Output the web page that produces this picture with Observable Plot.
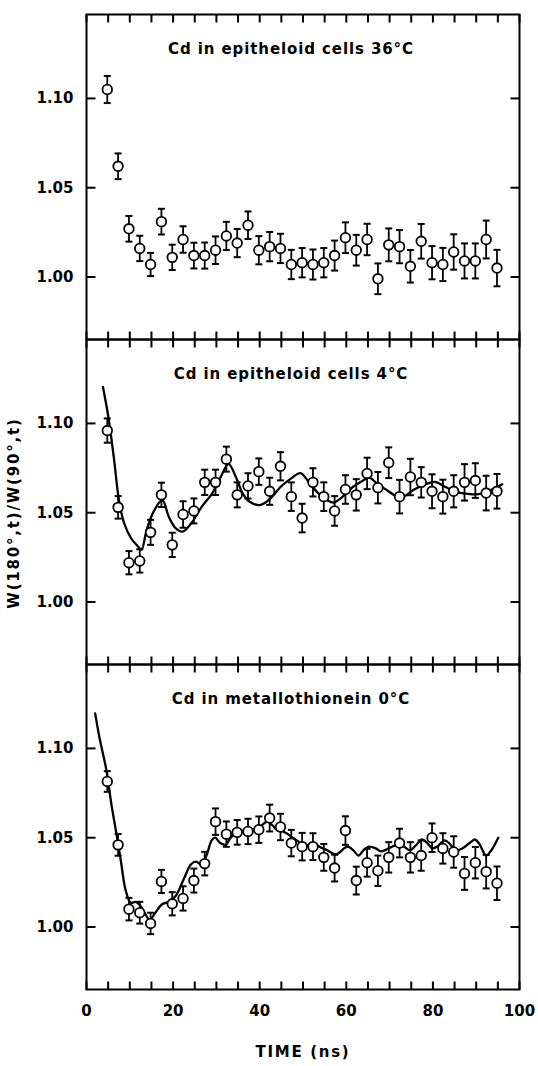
<!DOCTYPE html>
<html><head><meta charset="utf-8">
<script src="https://cdn.jsdelivr.net/npm/d3@7"></script>
<script src="https://cdn.jsdelivr.net/npm/@observablehq/plot@0.6"></script>
<style>
body{margin:0;background:#fff}
#chart{width:538px;height:1066px}
</style>
</head><body><div id="chart"></div>
<script>
const panels = ["36C", "4C", "0C"];
const panelTitles = ["Cd in epitheloid cells 36°C", "Cd in epitheloid cells 4°C", "Cd in metallothionein 0°C"];
const yLabel = "W(180°,t)/W(90°,t)";
const xLabel = "TIME (ns)";

const times = [4.8, 7.3, 9.8, 12.3, 14.8, 17.3, 19.8, 22.3, 24.8, 27.3, 29.8, 32.3, 34.8, 37.3, 39.8, 42.3, 44.8, 47.3, 49.8, 52.3, 54.8, 57.3, 59.8, 62.3, 64.8, 67.3, 69.8, 72.3, 74.8, 77.3, 79.8, 82.3, 84.8, 87.3, 89.8, 92.3, 94.8];

const values36 = [1.105, 1.062, 1.027, 1.016, 1.007, 1.031, 1.011, 1.021, 1.012, 1.012, 1.015, 1.023, 1.019, 1.029, 1.015, 1.017, 1.016, 1.007, 1.008, 1.007, 1.008, 1.012, 1.022, 1.015, 1.021, 0.999, 1.018, 1.017, 1.006, 1.020, 1.008, 1.007, 1.014, 1.009, 1.009, 1.021, 1.005];
const errors36 = [0.0076, 0.0072, 0.0072, 0.0071, 0.0065, 0.0072, 0.0071, 0.0074, 0.0072, 0.0073, 0.0077, 0.0079, 0.0079, 0.0077, 0.0079, 0.0082, 0.0082, 0.0082, 0.0082, 0.0084, 0.0082, 0.0084, 0.0086, 0.0086, 0.0088, 0.0086, 0.0092, 0.0093, 0.0091, 0.0097, 0.0093, 0.0093, 0.0099, 0.0098, 0.0098, 0.0106, 0.0102];

const values4 = [1.096, 1.053, 1.022, 1.023, 1.039, 1.060, 1.032, 1.049, 1.051, 1.067, 1.067, 1.080, 1.060, 1.065, 1.073, 1.062, 1.076, 1.059, 1.047, 1.067, 1.059, 1.051, 1.063, 1.060, 1.072, 1.064, 1.078, 1.059, 1.070, 1.067, 1.062, 1.059, 1.062, 1.067, 1.068, 1.061, 1.062];
const errors4 = [0.0068, 0.0063, 0.0065, 0.0065, 0.007, 0.0068, 0.0068, 0.0074, 0.007, 0.0071, 0.0071, 0.007, 0.007, 0.0071, 0.0074, 0.0076, 0.0079, 0.008, 0.008, 0.0079, 0.008, 0.0083, 0.008, 0.0088, 0.0088, 0.0088, 0.0086, 0.0094, 0.0102, 0.0085, 0.0095, 0.0095, 0.009, 0.0102, 0.0097, 0.0097, 0.0097];

const values0 = [1.0815, 1.046, 1.010, 1.008, 1.002, 1.0255, 1.013, 1.016, 1.026, 1.0355, 1.059, 1.052, 1.053, 1.0535, 1.0545, 1.061, 1.056, 1.047, 1.045, 1.045, 1.039, 1.033, 1.054, 1.026, 1.036, 1.0315, 1.039, 1.047, 1.039, 1.040, 1.050, 1.044, 1.042, 1.030, 1.036, 1.031, 1.0245];
const errors0 = [0.0058, 0.0061, 0.0063, 0.0061, 0.006, 0.0065, 0.0065, 0.0068, 0.0067, 0.0066, 0.0074, 0.0071, 0.0069, 0.0071, 0.0074, 0.0075, 0.0074, 0.0074, 0.0077, 0.0075, 0.0075, 0.0075, 0.008, 0.0078, 0.0078, 0.0085, 0.0085, 0.008, 0.0085, 0.0085, 0.008, 0.0085, 0.0088, 0.0092, 0.0088, 0.0094, 0.0094];

const fitTimes4 = [3.8, 5.0, 6.3, 7.5, 8.7, 10.3, 11.9, 12.7, 13.9, 15.5, 17.5, 19.0, 20.6, 22.2, 24.2, 26.6, 29.0, 31.0, 32.8, 34.5, 36.1, 37.7, 40.1, 42.5, 44.8, 47.2, 49.4, 51.6, 53.6, 55.6, 57.1, 59.1, 61.5, 63.9, 65.3, 67.1, 69.4, 71.8, 73.0, 75.4, 78.2, 80.6, 82.9, 85.3, 87.7, 90.5, 93.3, 96.0];
const fitValues4 = [1.1204, 1.1043, 1.0811, 1.057, 1.0441, 1.0357, 1.0311, 1.0293, 1.0404, 1.0506, 1.057, 1.0478, 1.0413, 1.0394, 1.0441, 1.0533, 1.0607, 1.070, 1.0774, 1.070, 1.0607, 1.0561, 1.0543, 1.058, 1.0644, 1.0691, 1.0722, 1.0663, 1.0607, 1.057, 1.0557, 1.0589, 1.0644, 1.0681, 1.0696, 1.0663, 1.0626, 1.0589, 1.0585, 1.0626, 1.0659, 1.0672, 1.0644, 1.0617, 1.0607, 1.0604, 1.0626, 1.0659];

const fitTimes0 = [2.0, 3.0, 4.5, 5.8, 7.0, 8.0, 9.0, 10.2, 11.4, 12.4, 13.4, 14.6, 15.9, 17.4, 19.0, 20.6, 22.5, 24.1, 25.3, 26.5, 27.7, 28.9, 29.7, 30.9, 32.1, 33.3, 34.9, 36.5, 38.5, 40.5, 41.7, 42.9, 44.1, 45.3, 46.5, 47.6, 49.2, 50.8, 52.4, 54.0, 55.6, 57.6, 59.6, 60.4, 61.6, 62.8, 64.0, 65.2, 66.8, 68.0, 69.6, 71.6, 73.1, 74.7, 75.9, 77.5, 78.7, 79.9, 81.1, 82.7, 83.9, 85.1, 86.7, 88.7, 89.7, 90.7, 92.3, 93.5, 95.1];
const fitValues0 = [1.1196, 1.106, 1.089, 1.068, 1.051, 1.036, 1.021, 1.0136, 1.014, 1.012, 1.008, 1.004, 1.008, 1.0126, 1.0142, 1.0174, 1.027, 1.035, 1.0366, 1.035, 1.040, 1.0485, 1.050, 1.047, 1.046, 1.050, 1.053, 1.054, 1.0547, 1.057, 1.059, 1.057, 1.054, 1.0536, 1.052, 1.050, 1.0475, 1.0457, 1.0466, 1.0447, 1.043, 1.0406, 1.0442, 1.045, 1.043, 1.040, 1.043, 1.045, 1.044, 1.0423, 1.0438, 1.046, 1.0453, 1.043, 1.0453, 1.049, 1.047, 1.044, 1.0453, 1.0485, 1.0466, 1.043, 1.0438, 1.0475, 1.049, 1.0466, 1.040, 1.043, 1.050];

const xTickValues = [0, 5, 10, 15, 20, 25, 30, 35, 40, 45, 50, 55, 60, 65, 70, 75, 80, 85, 90, 95, 100];
const xTickLabels = [0, 20, 40, 60, 80, 100];
const yTickValues = [1.00, 1.05, 1.10];

// build tables
const points = [];
[[values36, errors36], [values4, errors4], [values0, errors0]].forEach(([vals, errs], k) => {
  vals.forEach((v, i) => points.push({panel: panels[k], t: times[i], v, lo: v - errs[i], hi: v + errs[i]}));
});
const fits = [];
fitTimes4.forEach((t, i) => fits.push({panel: panels[1], t, v: fitValues4[i]}));
fitTimes0.forEach((t, i) => fits.push({panel: panels[2], t, v: fitValues0[i]}));

const capSymbol = {draw(ctx) { ctx.moveTo(-3.5, 0); ctx.lineTo(3.5, 0); }};
const vTick = (len) => ({draw(ctx) { ctx.moveTo(0, 0); ctx.lineTo(0, len); }});
const hTick = (len) => ({draw(ctx) { ctx.moveTo(0, 0); ctx.lineTo(len, 0); }});

const chart = Plot.plot({
  width: 538, height: 1066,
  marginTop: 13, marginBottom: 76, marginLeft: 86, marginRight: 19,
  style: {fontFamily: "DejaVu Sans", fontSize: "15px", fontWeight: "bold", color: "black", background: "white"},
  x: {domain: [0, 100], axis: null},
  y: {domain: [0.965, 1.147], axis: null},
  fy: {domain: panels, axis: null, padding: 0},
  marks: [
    Plot.frame({stroke: "black", strokeWidth: 2}),
    Plot.dot(xTickValues, {x: d => d, frameAnchor: "top", symbol: vTick(8), stroke: "black", fill: "none", strokeWidth: 2}),
    Plot.dot(xTickValues, {x: d => d, frameAnchor: "bottom", symbol: vTick(-8), stroke: "black", fill: "none", strokeWidth: 2}),
    Plot.dot(yTickValues, {y: d => d, frameAnchor: "left", symbol: hTick(9), stroke: "black", fill: "none", strokeWidth: 2}),
    Plot.dot(yTickValues, {y: d => d, frameAnchor: "right", symbol: hTick(-9), stroke: "black", fill: "none", strokeWidth: 2}),
    Plot.axisY(yTickValues, {tickSize: 0, tickPadding: 13, tickFormat: d3.format(".2f"), label: null, fontSize: 15, fontWeight: "bold"}),
    Plot.axisX(xTickLabels, {tickSize: 0, tickPadding: 16, label: null, fontSize: 15, fontWeight: "bold"}),
    Plot.text(panelTitles, {fy: panels, text: d => d, frameAnchor: "top", dy: 29, dx: -12, fontSize: 15, fontWeight: "bold"}),
    Plot.text([yLabel], {fy: [panels[1]], text: d => d, frameAnchor: "left", textAnchor: "middle", rotate: -90, dx: -72, dy: 11, fontSize: 15, fontWeight: "bold"}),
    Plot.text([xLabel], {fy: [panels[2]], text: d => d, frameAnchor: "bottom", dy: 67, fontSize: 15, fontWeight: "bold"}),
    Plot.line(fits, {x: "t", y: "v", fy: "panel", curve: "catmull-rom", stroke: "black", strokeWidth: 2.3}),
    Plot.ruleX(points, {x: "t", y1: "lo", y2: "hi", fy: "panel", stroke: "black", strokeWidth: 1.8}),
    Plot.dot(points, {x: "t", y: "lo", fy: "panel", symbol: capSymbol, stroke: "black", fill: "none", strokeWidth: 2}),
    Plot.dot(points, {x: "t", y: "hi", fy: "panel", symbol: capSymbol, stroke: "black", fill: "none", strokeWidth: 2}),
    Plot.dot(points, {x: "t", y: "v", fy: "panel", r: 4.8, fill: "white", stroke: "black", strokeWidth: 1.8})
  ]
});
document.getElementById("chart").append(chart);
d3.select(chart).selectAll("text").each(function() {
  const s = this.textContent;
  if (panelTitles.includes(s)) d3.select(this).attr("letter-spacing", "0.9px");
  else if (s === yLabel) d3.select(this).attr("letter-spacing", "1.8px");
  else if (s === xLabel) d3.select(this).attr("letter-spacing", "1.7px");
});
</script>
</body></html>
